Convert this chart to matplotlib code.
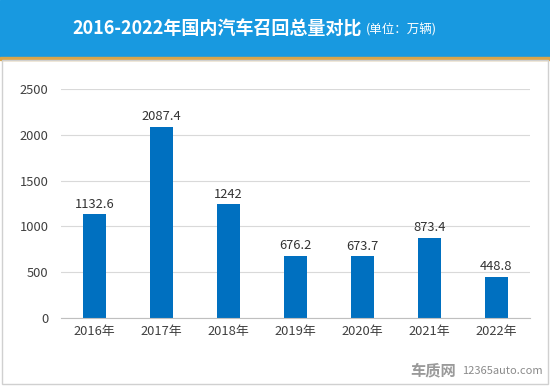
import matplotlib
matplotlib.use('Agg')
import matplotlib.pyplot as plt
from matplotlib.patches import Rectangle

plt.rcParams['font.family'] = ['Noto Sans CJK SC', 'DejaVu Sans']

years = ["2016年", "2017年", "2018年", "2019年", "2020年", "2021年", "2022年"]
recalls = [1132.6, 2087.4, 1242, 676.2, 673.7, 873.4, 448.8]
labels = ["1132.6", "2087.4", "1242", "676.2", "673.7", "873.4", "448.8"]
yticks = [0, 500, 1000, 1500, 2000, 2500]


def main():
    fig = plt.figure(figsize=(5.5, 3.86), dpi=100)
    W, H = 550, 386

    # title band + gold line + border
    fig.patches.append(Rectangle((0, 1 - 57 / H), 1, 57 / H, transform=fig.transFigure,
                                 color="#1899e0", zorder=0))
    fig.patches.append(Rectangle((0, 1 - 60 / H), 1, 3 / H, transform=fig.transFigure,
                                 color="#d9a54a", zorder=0))
    fig.patches.append(Rectangle((2 / W, 2 / H), 546 / W, 1 - 62 / H, transform=fig.transFigure,
                                 fill=False, edgecolor="#d0d0d0", lw=1, zorder=0))

    fig.text(362 / W, 1 - 29 / H, "2016-2022年国内汽车召回总量对比", color="white",
             fontsize=13, fontweight="bold", ha="right", va="center")
    fig.text(366 / W, 1 - 30 / H, "(单位：万辆)", color="white", fontsize=9,
             ha="left", va="center")

    ax = fig.add_axes([61 / W, 1 - 318 / H, 469 / W, 229 / H])
    x = range(len(years))
    bars = ax.bar(x, recalls, width=0.33, color="#0070c0", zorder=2)
    for b, lab in zip(bars, labels):
        ax.text(b.get_x() + b.get_width() / 2, b.get_height() + 40, lab,
                ha="center", va="bottom", fontsize=9.3, color="#333333")

    ax.set_xlim(-0.5, len(years) - 0.5)
    ax.set_ylim(0, 2500)
    ax.set_yticks(yticks)
    ax.set_xticks(list(x))
    ax.set_xticklabels(years)
    ax.tick_params(axis="both", length=0, labelsize=9.3, colors="#404040")
    ax.tick_params(axis="y", pad=9)
    ax.tick_params(axis="x", pad=5)
    ax.grid(axis="y", color="#d9d9d9", lw=0.8, zorder=0)
    for s in ["top", "right", "left"]:
        ax.spines[s].set_visible(False)
    ax.spines["bottom"].set_color("#bfbfbf")

    fig.text(456 / W, 1 - 370 / H, "车质网", fontsize=11, color="#9a9a9a", fontweight="bold",
             ha="right", va="center")
    fig.text(543 / W, 1 - 371 / H, "12365auto.com", fontsize=8, color="#8a8a8a",
             ha="right", va="center")

    plt.savefig("out.png", dpi=100)
    plt.close()


if __name__ == "__main__":
    main()
